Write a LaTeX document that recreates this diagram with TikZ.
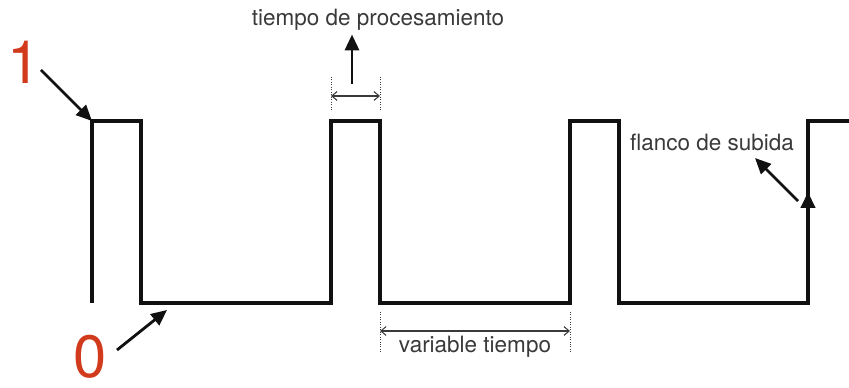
\documentclass[tikz,border=0pt]{standalone}
\usepackage{fontspec}
\setmainfont{TeX Gyre Heros}
\usetikzlibrary{arrows.meta, positioning, calc}
\definecolor{ink}{HTML}{111111}
\definecolor{muted}{HTML}{3A3A3A}
\definecolor{levelred}{HTML}{D23A1C}
\tikzset{
  font=\normalsize,
  %
  wave/.style={draw=ink, line width=1.9pt, line join=miter},
  pointer/.style={draw=ink, line width=1.6pt, -{Triangle[length=9pt, width=8pt]}},
  dimline/.style={draw=muted, line width=0.6pt,
                  {Straight Barb[length=3pt, width=5pt]}-{Straight Barb[length=3pt, width=5pt]}},
  guide/.style={draw=muted, line width=0.4pt, densely dotted},
  %
  lbl/.style={text=muted, inner sep=2pt, font=\fontsize{12.8}{15}\selectfont},
  level/.style={text=levelred, inner sep=0pt, font=\fontsize{34}{36}\selectfont},
}
\begin{document}
\begin{tikzpicture}[x=0.02cm, y=-0.02cm]

  \useasboundingbox (0,0) rectangle (849,388);

  % --- the square wave ---------------------------------------------------
  \coordinate (s0) at (92,303);
  \coordinate (h1) at (92,121);
  \coordinate (h1r) at (141,121);
  \coordinate (l1) at (141,303);
  \coordinate (l1r) at (331,303);
  \coordinate (h2) at (331,121);
  \coordinate (h2r) at (380,121);
  \coordinate (l2) at (380,303);
  \coordinate (l2r) at (570,303);
  \coordinate (h3) at (570,121);
  \coordinate (h3r) at (619,121);
  \coordinate (l3) at (619,303);
  \coordinate (l3r) at (808,303);
  \coordinate (h4) at (808,121);
  \coordinate (end) at (849,121);

  \draw[wave] (s0) -- (h1) -- (h1r) -- (l1) -- (l1r) -- (h2) -- (h2r) -- (l2)
    -- (l2r) -- (h3) -- (h3r) -- (l3) -- (l3r) -- (h4) -- (end);

  % rising edge marker
  \coordinate (edge) at (808,192);
  \draw[wave, -{Triangle[length=9pt, width=8pt]}] (808,215) -- (edge);

  % --- logic levels ------------------------------------------------------
  \node[level] (one) at (24,62) {1};
  \node[level] (zero) at (90,357) {0};
  \draw[pointer] ($(one)+(17,8)$) -- (h1);
  \draw[pointer] ($(zero)+(27,-7)$) -- (167,310);

  % --- processing time ---------------------------------------------------
  \node[lbl] (proc) at (378,20) {tiempo de procesamiento};
  \coordinate (pa) at (331,77);
  \coordinate (pb) at (380,77);
  \draw[guide] (pa) -- (331,111);
  \draw[guide] (pb) -- (380,111);
  \draw[dimline] (331,96) -- (380,96);
  \draw[pointer] (352,84) -- (proc.south -| 352,0);

  % --- variable time -----------------------------------------------------
  \draw[guide] (380,312) -- (380,353);
  \draw[guide] (570,312) -- (570,353);
  \draw[dimline] (380,331) -- (570,331);
  \node[lbl] (vart) at (475,347) {variable tiempo};

  % --- rising edge label -------------------------------------------------
  \node[lbl] (flank) at (712,142) {flanco de subida};
  \draw[pointer] (798,201) -- (755,158);

\end{tikzpicture}
\end{document}
